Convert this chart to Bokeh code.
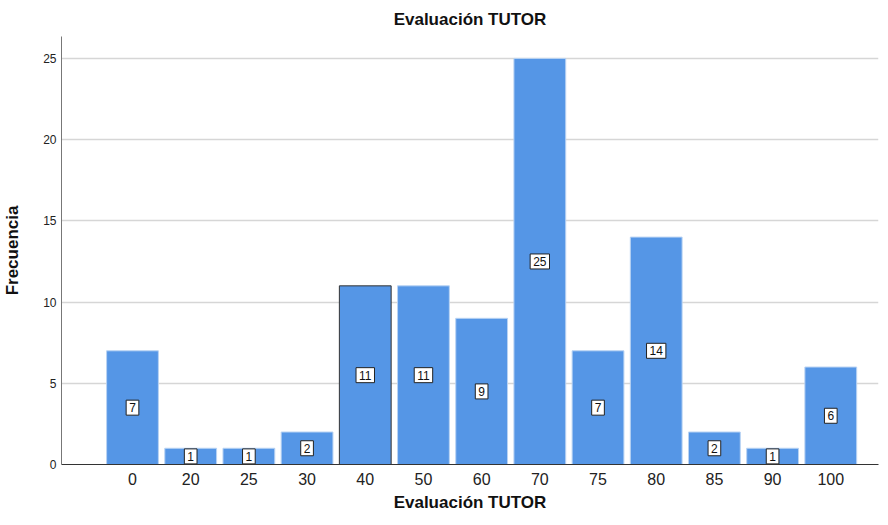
from bokeh.plotting import figure
from bokeh.models import Range1d, FixedTicker, ColumnDataSource
from bokeh.core.properties import value
from bokeh.embed import file_html
from bokeh.resources import INLINE

categories = ["0", "20", "25", "30", "40", "50", "60", "70", "75", "80", "85", "90", "100"]
counts = [7, 1, 1, 2, 11, 11, 9, 25, 7, 14, 2, 1, 6]
y_ticks = [0, 5, 10, 15, 20, 25]

FONT = "Liberation Sans"
pos = list(range(len(categories)))
outline = ["#333333" if c == "40" else "#b9d3f3" for c in categories]

src = ColumnDataSource(dict(
    x=pos, top=counts, mid=[c / 2 for c in counts],
    lbl=[str(c) for c in counts], line=outline,
))

p = figure(frame_width=817, frame_height=428, output_backend="svg", toolbar_location=None,
           x_range=Range1d(-1.22, len(categories) - 1 + 0.82),
           y_range=Range1d(0, 26.35),
           title="Evaluación TUTOR",
           min_border_left=53, min_border_right=2, min_border_top=29, min_border_bottom=50)
p.outline_line_color = None
p.background_fill_color = "white"

p.title.align = "center"
p.title.text_font = FONT
p.title.text_font_size = "17px"
p.title.text_font_style = "bold"
p.title.text_color = "#111111"
p.title.standoff = 15

p.vbar(x="x", top="top", width=0.89, source=src, fill_color="#5596e6",
       line_color="line", line_width=1)

p.text(x="x", y="mid", text="lbl", source=src, text_font=value(FONT),
       text_font_size="12px", text_color="#111111", text_align="center",
       text_baseline="middle", background_fill_color="white",
       border_line_color="#222222", border_line_width=1, padding=3)

# axes
xa = p.xaxis[0]
xa.ticker = FixedTicker(ticks=pos)
xa.major_label_overrides = {i: c for i, c in enumerate(categories)}
xa.major_tick_line_color = None
xa.minor_tick_line_color = None
xa.major_tick_in = 0
xa.major_tick_out = 0
xa.axis_line_color = "#333333"
xa.major_label_text_font = FONT
xa.major_label_text_font_size = "16px"
xa.major_label_text_color = "#222222"
xa.major_label_standoff = 8
xa.axis_label = "Evaluación TUTOR"
xa.axis_label_text_font = FONT
xa.axis_label_text_font_size = "17px"
xa.axis_label_text_font_style = "bold"
xa.axis_label_text_color = "#111111"
xa.axis_label_standoff = 5

ya = p.yaxis[0]
ya.ticker = FixedTicker(ticks=y_ticks)
ya.major_tick_line_color = None
ya.minor_tick_line_color = None
ya.major_tick_in = 0
ya.major_tick_out = 0
ya.axis_line_color = "#777777"
ya.major_label_text_font = FONT
ya.major_label_text_font_size = "12px"
ya.major_label_text_color = "#222222"
ya.major_label_standoff = 5
ya.axis_label = "Frecuencia"
ya.axis_label_text_font = FONT
ya.axis_label_text_font_size = "17px"
ya.axis_label_text_font_style = "bold"
ya.axis_label_text_color = "#111111"
ya.axis_label_standoff = 18

p.xgrid.grid_line_color = None
p.ygrid.ticker = FixedTicker(ticks=[5, 10, 15, 20, 25])
p.ygrid.grid_line_color = "#d6d6d6"
p.ygrid.grid_line_width = 1.5
p.ygrid.level = "underlay"

open("out.html", "w").write(file_html(p, INLINE))
